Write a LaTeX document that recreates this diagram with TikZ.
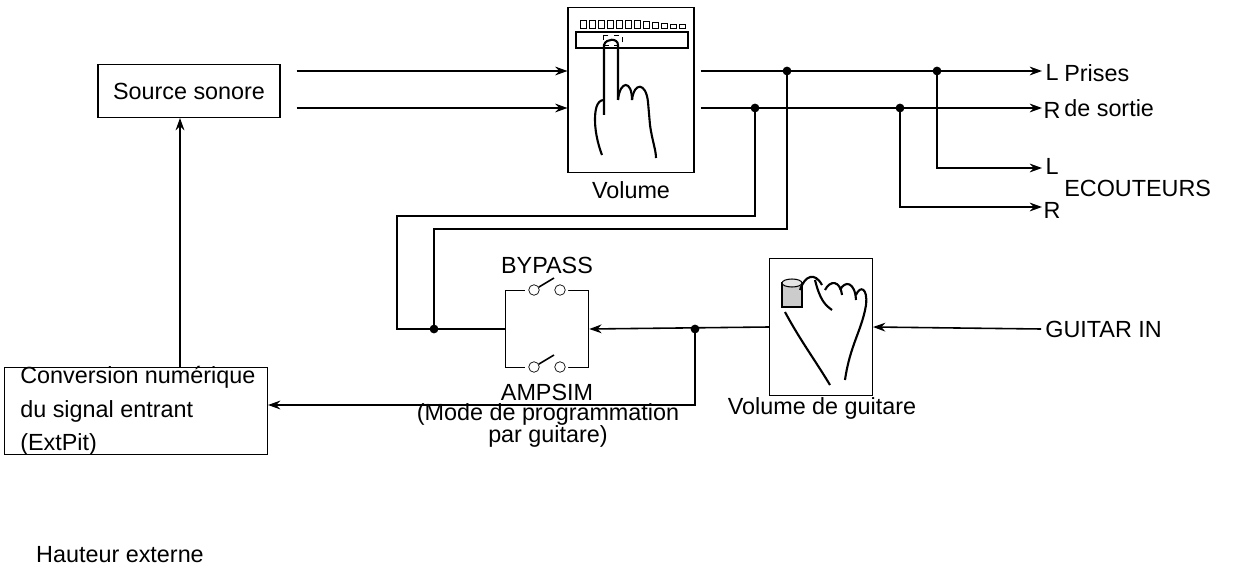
\documentclass[tikz,border=0pt]{standalone}
\usepackage{fontspec}
\setmainfont{Liberation Sans}
\usetikzlibrary{arrows.meta}
\begin{document}
\begin{tikzpicture}[x=0.02cm,y=-0.02cm,
  every node/.style={font=\fontsize{13.3}{15}\selectfont, inner sep=0},
  box/.style={draw, line width=0.6pt},
  ln/.style={line width=0.9pt},
  ar/.style={ln,-{Stealth[length=7pt,width=5pt]}},
  dot/.style={circle,fill,inner sep=0,minimum size=5pt},
  oc/.style={circle,draw,fill=white,inner sep=0,minimum size=6pt}]
\useasboundingbox (0,0) rectangle (1248,581);
% boxes
\node[box, minimum width=182*0.02cm, minimum height=53*0.02cm] (src) at (189,91) {Source sonore};
\node[box, minimum width=126*0.02cm, minimum height=165*0.02cm] (vol) at (631,90) {};
\node (voll) at (631,190) {Volume};
\node[box, minimum width=103*0.02cm, minimum height=137*0.02cm] (gv) at (821,327) {};
\node (gvl) at (822,408) {Volume de guitare};
\node[box, minimum width=263*0.02cm, minimum height=87*0.02cm] (conv) at (136,411) {};
\node[align=left, anchor=west] (convt) at (20,411) {Conversion numérique\\[4pt]du signal entrant\\[4pt](ExtPit)};
\node (haut) at (120,555) {Hauteur externe};
% volume icon
\draw[line width=0.6pt] (576,32) rectangle (688,48);
\foreach \i/\s in {0/1,1/1,2/1,3/1,4/1,5/1,6/0.9,7/0.8,8/0.7,9/0.6,10/0.5,11/0.5}
  \draw[line width=0.4pt] ({580+9*\i},{20+8*(1-\s)}) rectangle ({586+9*\i},28);
\draw[line width=0.5pt, dashed] (603,35) rectangle (622,45);
\draw[line width=1.2pt] (604,115) -- (604,45) .. controls (606,38) and (618,38) .. (618,45) -- (618,100);
\draw[line width=1.2pt] (618,100) .. controls (620,80) and (632,80) .. (632,100);
\draw[line width=1.2pt] (632,100) .. controls (634,82) and (646,82) .. (648,102) -- (650,125) .. controls (652,140) and (656,150) .. (656,158);
\draw[line width=1.2pt] (604,100) .. controls (596,100) and (595,112) .. (595,120) .. controls (595,135) and (600,150) .. (602,155);
% guitar icon
\draw[line width=0.6pt, fill=gray!40] (782,283) rectangle (802,307);
\draw[line width=0.6pt, fill=gray!20] (792,283) ellipse (10 and 4);
\draw[line width=1.2pt] (800,290) .. controls (805,275) and (815,272) .. (822,285)
  (815,280) .. controls (820,300) and (825,305) .. (832,310)
  (825,290) .. controls (830,280) and (840,280) .. (842,295)
  (840,290) .. controls (845,280) and (855,282) .. (856,300)
  (856,295) .. controls (860,285) and (868,288) .. (866,305)
  (866,305) .. controls (862,330) and (850,345) .. (845,380)
  (785,312) .. controls (800,340) and (815,360) .. (830,385);
% switch
\node[draw, line width=0.9pt, minimum width=83*0.02cm, minimum height=77*0.02cm] (sw) at (547,329) {};
\node (byp) at (547,265) {BYPASS};
\node (amp) at (547,392) {AMPSIM};
\node (mode1) at (548,414) {(Mode de programmation};
\node (mode2) at (548,436) {par guitare)};
\fill[white] (525,286) rectangle (568,294) (525,363) rectangle (568,371);
\node[oc] (t1) at (534,290) {}; \node[oc] (t2) at (560,290) {};
\node[oc] (b1) at (534,367) {}; \node[oc] (b2) at (560,367) {};
\draw[line width=0.9pt] (t1) -- ++(20,-12) (b1) -- ++(20,-12);
% junction coordinates
\coordinate (jA) at (787,71); \coordinate (jB) at (755,108);
\coordinate (jC) at (937,71); \coordinate (jD) at (900,108);
\coordinate (jE) at (434,329); \coordinate (jF) at (695,329);
% source to volume
\draw[ar] (src.east |- 0,71) ++(16,0) -- (vol.west |- 0,71);
\draw[ar] (src.east |- 0,108) ++(16,0) -- (vol.west |- 0,108);
% outputs
\coordinate (oL) at (1042,71); \coordinate (oR) at (1042,108);
\coordinate (eL) at (1042,168); \coordinate (eR) at (1042,207);
\draw[ar] (vol.east |- 0,71) ++(6,0) -- (oL);
\draw[ar] (vol.east |- 0,108) ++(6,0) -- (oR);
\draw[ar] (jC) |- (eL);
\draw[ar] (jD) |- (eR);
\node (L1) at (1052,72) {L}; \node (R1) at (1052,110) {R};
\node (L2) at (1052,166) {L}; \node (R2) at (1052,210) {R};
\node[anchor=west] (pr) at (1064,73) {Prises};
\node[anchor=west] (ds) at (1064,108) {de sortie};
\node[anchor=west] (ec) at (1064,188) {ECOUTEURS};
% loop
\draw[ln] (jB) -- (755,216) -- (397,216) |- (sw.west);
\draw[ln] (jA) -- (787,229) -- (434,229) -- (jE);
\draw[ar] (gv.west) -- (sw.east);
\draw[ar] (jF) |- (conv.east |- 0,405);
\draw[ar] (conv.north -| 180,0) -- (src.south -| 180,0);
% guitar in
\node[anchor=west] (gin) at (1045,329) {GUITAR IN};
\draw[ar] (gin.west) ++(-4,0) -- (gv.east);
\foreach \p in {jA,jB,jC,jD,jE,jF} \node[dot] at (\p) {};
\end{tikzpicture}
\end{document}
